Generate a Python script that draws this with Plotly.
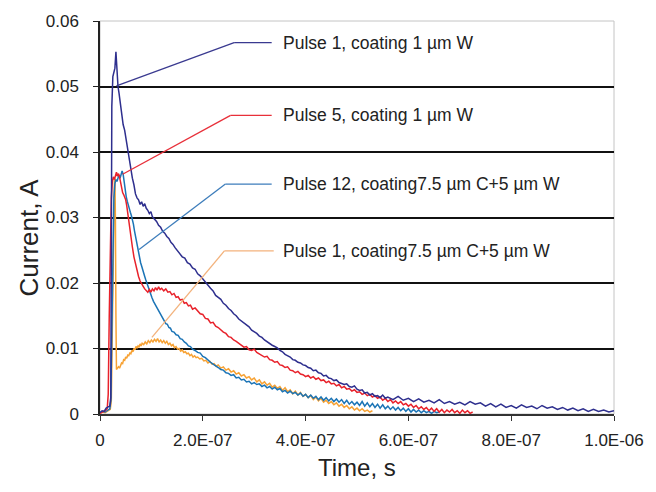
import plotly.graph_objects as go

# ---- data (time in ns, current in A) ----
t_p1w = [0, 4, 8, 12, 16, 19, 21, 22, 23, 25, 27, 29, 31, 33, 35, 37, 39, 41, 43, 45, 48, 51, 54, 57, 60, 63, 66, 69, 72, 75, 78, 81, 84, 87, 90, 93, 96, 99, 102, 106, 110, 114, 118, 122, 126, 130, 134, 138, 142, 146, 150, 155, 160, 165, 170, 175, 180, 185, 190, 195, 200, 205, 210, 215, 220, 225, 230, 235, 240, 245, 250, 255, 260, 265, 270, 275, 280, 285, 290, 295, 300, 305, 310, 315, 320, 325, 330, 335, 340, 345, 350, 355, 360, 365, 370, 375, 380, 385, 390, 395, 400, 405, 410, 415, 420, 425, 430, 435, 440, 445, 450, 455, 460, 465, 470, 475, 480, 485, 490, 495, 500, 505, 510, 515, 520, 525, 530, 535, 540, 545, 550, 555, 560, 570, 580, 590, 600, 610, 620, 630, 640, 650, 660, 670, 680, 690, 700, 710, 720, 730, 740, 750, 760, 770, 780, 790, 800, 810, 820, 830, 840, 850, 860, 870, 880, 890, 900, 910, 920, 930, 940, 950, 960, 970, 980, 990, 1000]
i_p1w = [0.0002, 0.0005, 0.0004, 0.0009, 0.0011, 0.0012, 0.0025, 0.0200, 0.0470, 0.0515, 0.0520, 0.0528, 0.0553, 0.0520, 0.0500, 0.0490, 0.0478, 0.0462, 0.0450, 0.0442, 0.0433, 0.0418, 0.0402, 0.0385, 0.0372, 0.0360, 0.0350, 0.0336, 0.0330, 0.0327, 0.0320, 0.0324, 0.0317, 0.0321, 0.0314, 0.0311, 0.0306, 0.0309, 0.0301, 0.0297, 0.0294, 0.0288, 0.0285, 0.0279, 0.0276, 0.0271, 0.0268, 0.0262, 0.0259, 0.0254, 0.0250, 0.0246, 0.0240, 0.0238, 0.0231, 0.0229, 0.0223, 0.0221, 0.0214, 0.0211, 0.0206, 0.0202, 0.0197, 0.0192, 0.0188, 0.0181, 0.0178, 0.0175, 0.0169, 0.0166, 0.0161, 0.0158, 0.0153, 0.0150, 0.0145, 0.0142, 0.0139, 0.0135, 0.0133, 0.0128, 0.0126, 0.0123, 0.0119, 0.0117, 0.0113, 0.0110, 0.0108, 0.0105, 0.0103, 0.0101, 0.0097, 0.0095, 0.0091, 0.0089, 0.0087, 0.0083, 0.0082, 0.0079, 0.0078, 0.0075, 0.0074, 0.0071, 0.0070, 0.0066, 0.0067, 0.0063, 0.0062, 0.0058, 0.0059, 0.0055, 0.0054, 0.0051, 0.0052, 0.0048, 0.0047, 0.0045, 0.0046, 0.0042, 0.0041, 0.0043, 0.0038, 0.0036, 0.0037, 0.0032, 0.0033, 0.0029, 0.0031, 0.0027, 0.0028, 0.0025, 0.0029, 0.0024, 0.0026, 0.0022, 0.0027, 0.0021, 0.0024, 0.0019, 0.0023, 0.0018, 0.0021, 0.0017, 0.0022, 0.0016, 0.0019, 0.0015, 0.0018, 0.0014, 0.0019, 0.0015, 0.0017, 0.0012, 0.0016, 0.0011, 0.0015, 0.0010, 0.0013, 0.0009, 0.0014, 0.0010, 0.0012, 0.0008, 0.0013, 0.0009, 0.0011, 0.0007, 0.0010, 0.0006, 0.0009, 0.0005, 0.0008, 0.0004, 0.0007, 0.0004, 0.0006, 0.0003, 0.0005]

t_p5w = [0, 5, 10, 14, 16, 18, 20, 22, 24, 26, 28, 30, 32, 34, 36, 38, 40, 42, 44, 46, 48, 50, 52, 54, 56, 58, 60, 63, 66, 69, 72, 75, 78, 81, 84, 87, 90, 93, 96, 99, 102, 105, 108, 111, 114, 117, 120, 124, 128, 132, 136, 140, 144, 148, 152, 156, 160, 164, 168, 172, 176, 180, 185, 190, 195, 200, 205, 210, 215, 220, 225, 230, 235, 240, 245, 250, 255, 260, 265, 270, 275, 280, 285, 290, 295, 300, 305, 310, 315, 320, 325, 330, 335, 340, 345, 350, 355, 360, 365, 370, 375, 380, 385, 390, 395, 400, 405, 410, 415, 420, 425, 430, 435, 440, 445, 450, 455, 460, 465, 470, 475, 480, 485, 490, 495, 500, 505, 510, 515, 520, 525, 530, 535, 540, 545, 550, 555, 560, 565, 570, 575, 580, 585, 590, 595, 600, 605, 610, 615, 620, 625, 630, 635, 640, 645, 650, 655, 660, 665, 670, 675, 680, 685, 690, 695, 700, 705, 710, 715, 720, 725]
i_p5w = [0.0001, 0.0003, 0.0005, 0.0008, 0.0030, 0.0150, 0.0260, 0.0330, 0.0355, 0.0362, 0.0358, 0.0366, 0.0369, 0.0363, 0.0367, 0.0362, 0.0352, 0.0345, 0.0338, 0.0335, 0.0331, 0.0327, 0.0318, 0.0305, 0.0292, 0.0281, 0.0268, 0.0255, 0.0240, 0.0229, 0.0218, 0.0210, 0.0203, 0.0198, 0.0195, 0.0191, 0.0189, 0.0186, 0.0190, 0.0186, 0.0191, 0.0188, 0.0193, 0.0189, 0.0194, 0.0190, 0.0192, 0.0188, 0.0191, 0.0186, 0.0187, 0.0182, 0.0184, 0.0178, 0.0179, 0.0174, 0.0175, 0.0169, 0.0170, 0.0165, 0.0166, 0.0160, 0.0162, 0.0157, 0.0153, 0.0152, 0.0146, 0.0145, 0.0139, 0.0140, 0.0134, 0.0132, 0.0128, 0.0125, 0.0123, 0.0118, 0.0117, 0.0113, 0.0111, 0.0108, 0.0106, 0.0102, 0.0103, 0.0098, 0.0097, 0.0099, 0.0094, 0.0092, 0.0090, 0.0087, 0.0088, 0.0083, 0.0082, 0.0079, 0.0080, 0.0075, 0.0074, 0.0071, 0.0072, 0.0067, 0.0066, 0.0063, 0.0065, 0.0061, 0.0060, 0.0057, 0.0059, 0.0055, 0.0057, 0.0053, 0.0055, 0.0051, 0.0052, 0.0048, 0.0050, 0.0046, 0.0047, 0.0043, 0.0045, 0.0040, 0.0042, 0.0038, 0.0039, 0.0035, 0.0037, 0.0033, 0.0034, 0.0030, 0.0032, 0.0028, 0.0030, 0.0026, 0.0028, 0.0024, 0.0026, 0.0021, 0.0024, 0.0019, 0.0022, 0.0017, 0.0020, 0.0016, 0.0019, 0.0014, 0.0016, 0.0012, 0.0015, 0.0010, 0.0013, 0.0008, 0.0011, 0.0007, 0.0010, 0.0005, 0.0009, 0.0004, 0.0008, 0.0003, 0.0007, 0.0002, 0.0006, 0.0003, 0.0007, 0.0002, 0.0005, 0.0001, 0.0006, 0.0002, 0.0005, 0.0001, 0.0003]

t_p12c = [0, 5, 10, 15, 19, 21, 23, 25, 27, 29, 31, 33, 35, 37, 39, 41, 43, 45, 47, 49, 51, 53, 55, 57, 59, 61, 63, 65, 67, 69, 71, 73, 75, 77, 79, 81, 83, 85, 87, 89, 91, 93, 95, 97, 99, 101, 104, 107, 110, 113, 116, 119, 122, 125, 128, 131, 134, 137, 140, 144, 148, 152, 156, 160, 164, 168, 172, 176, 180, 185, 190, 195, 200, 205, 210, 215, 220, 225, 230, 235, 240, 245, 250, 255, 260, 265, 270, 275, 280, 285, 290, 295, 300, 305, 310, 315, 320, 325, 330, 335, 340, 345, 350, 355, 360, 365, 370, 375, 380, 385, 390, 395, 400, 405, 410, 415, 420, 425, 430, 435, 440, 445, 450, 455, 460, 465, 470, 475, 480, 485, 490, 495, 500, 505, 510, 515, 520, 525, 530, 535, 540, 545, 550, 555, 560, 565, 570, 575, 580, 585, 590, 595, 600, 605, 610, 615, 620, 625, 630, 635, 640, 645, 650, 655, 660]
i_p12c = [0.0002, 0.0004, 0.0003, 0.0006, 0.0008, 0.0020, 0.0120, 0.0250, 0.0330, 0.0352, 0.0358, 0.0355, 0.0362, 0.0365, 0.0360, 0.0368, 0.0371, 0.0366, 0.0352, 0.0343, 0.0332, 0.0325, 0.0318, 0.0312, 0.0308, 0.0303, 0.0298, 0.0290, 0.0280, 0.0271, 0.0262, 0.0254, 0.0246, 0.0240, 0.0231, 0.0226, 0.0219, 0.0214, 0.0210, 0.0205, 0.0200, 0.0197, 0.0190, 0.0187, 0.0181, 0.0178, 0.0172, 0.0168, 0.0163, 0.0159, 0.0155, 0.0151, 0.0146, 0.0143, 0.0138, 0.0137, 0.0132, 0.0131, 0.0126, 0.0125, 0.0121, 0.0120, 0.0115, 0.0114, 0.0110, 0.0108, 0.0104, 0.0103, 0.0099, 0.0097, 0.0094, 0.0093, 0.0088, 0.0086, 0.0082, 0.0079, 0.0076, 0.0074, 0.0071, 0.0068, 0.0067, 0.0063, 0.0062, 0.0059, 0.0060, 0.0055, 0.0056, 0.0052, 0.0053, 0.0049, 0.0050, 0.0046, 0.0048, 0.0045, 0.0046, 0.0042, 0.0044, 0.0040, 0.0042, 0.0038, 0.0041, 0.0037, 0.0039, 0.0034, 0.0036, 0.0032, 0.0035, 0.0031, 0.0033, 0.0029, 0.0032, 0.0027, 0.0030, 0.0025, 0.0029, 0.0024, 0.0027, 0.0022, 0.0026, 0.0021, 0.0025, 0.0020, 0.0024, 0.0019, 0.0023, 0.0018, 0.0022, 0.0016, 0.0021, 0.0015, 0.0019, 0.0014, 0.0018, 0.0013, 0.0019, 0.0012, 0.0017, 0.0011, 0.0016, 0.0010, 0.0015, 0.0009, 0.0014, 0.0008, 0.0012, 0.0007, 0.0011, 0.0006, 0.0010, 0.0005, 0.0009, 0.0004, 0.0008, 0.0003, 0.0007, 0.0003, 0.0006, 0.0002, 0.0005, 0.0002, 0.0004, 0.0001, 0.0004, 0.0002, 0.0003]

t_p1c = [0, 5, 10, 15, 20, 22, 24, 26, 28, 29, 30, 31, 32, 34, 36, 38, 40, 42, 44, 46, 48, 50, 52, 54, 56, 58, 60, 62, 64, 66, 68, 70, 72, 74, 76, 78, 80, 82, 85, 88, 91, 94, 97, 100, 103, 106, 109, 112, 115, 118, 121, 124, 127, 130, 133, 136, 139, 142, 145, 148, 151, 154, 157, 160, 163, 166, 169, 172, 175, 178, 181, 184, 187, 190, 194, 198, 202, 206, 210, 214, 218, 222, 226, 230, 235, 240, 245, 250, 255, 260, 265, 270, 275, 280, 285, 290, 295, 300, 305, 310, 315, 320, 325, 330, 335, 340, 345, 350, 355, 360, 365, 370, 375, 380, 385, 390, 395, 400, 405, 410, 415, 420, 425, 430, 435, 440, 445, 450, 455, 460, 465, 470, 475, 480, 485, 490, 495, 500, 505, 510, 515, 520, 525, 530]
i_p1c = [0.0001, 0.0003, 0.0002, 0.0005, 0.0007, 0.0020, 0.0150, 0.0300, 0.0355, 0.0360, 0.0300, 0.0150, 0.0068, 0.0070, 0.0072, 0.0070, 0.0076, 0.0078, 0.0077, 0.0083, 0.0082, 0.0087, 0.0085, 0.0090, 0.0089, 0.0093, 0.0092, 0.0097, 0.0095, 0.0100, 0.0098, 0.0103, 0.0101, 0.0104, 0.0102, 0.0107, 0.0104, 0.0108, 0.0106, 0.0110, 0.0107, 0.0112, 0.0109, 0.0113, 0.0110, 0.0114, 0.0111, 0.0115, 0.0110, 0.0113, 0.0109, 0.0112, 0.0108, 0.0111, 0.0106, 0.0108, 0.0104, 0.0106, 0.0101, 0.0103, 0.0099, 0.0100, 0.0096, 0.0098, 0.0094, 0.0095, 0.0092, 0.0093, 0.0089, 0.0091, 0.0087, 0.0089, 0.0086, 0.0087, 0.0084, 0.0085, 0.0081, 0.0082, 0.0078, 0.0080, 0.0076, 0.0077, 0.0073, 0.0075, 0.0070, 0.0072, 0.0067, 0.0069, 0.0064, 0.0066, 0.0061, 0.0063, 0.0058, 0.0060, 0.0055, 0.0057, 0.0052, 0.0055, 0.0049, 0.0052, 0.0046, 0.0049, 0.0044, 0.0047, 0.0041, 0.0044, 0.0039, 0.0042, 0.0036, 0.0040, 0.0034, 0.0037, 0.0031, 0.0035, 0.0029, 0.0033, 0.0027, 0.0030, 0.0025, 0.0028, 0.0022, 0.0026, 0.0020, 0.0024, 0.0018, 0.0021, 0.0016, 0.0019, 0.0014, 0.0017, 0.0012, 0.0015, 0.0010, 0.0013, 0.0008, 0.0011, 0.0006, 0.0009, 0.0005, 0.0008, 0.0004, 0.0006, 0.0003, 0.0005]

series_names = ["Pulse 1, coating 1 µm W", "Pulse 5, coating 1 µm W",
                "Pulse 12, coating7.5 µm C+5 µm W", "Pulse 1, coating7.5 µm C+5 µm W"]

x_tickvals = [0, 2e-7, 4e-7, 6e-7, 8e-7, 1e-6]
x_ticktext = ["0", "2.0E-07", "4.0E-07", "6.0E-07", "8.0E-07", "1.0E-06"]
y_tickvals = [0, 0.01, 0.02, 0.03, 0.04, 0.05, 0.06]
y_ticktext = ["0", "0.01", "0.02", "0.03", "0.04", "0.05", "0.06"]
grid_vals = [0.01, 0.02, 0.03, 0.04, 0.05]

# callout geometry (data coords: ns, A): start point on curve, elbow, end
callouts = [
    ((32, 0.0501), (261, 0.0567), (334, 0.0567)),
    ((44, 0.0366), (254, 0.0456), (334, 0.0456)),
    ((76, 0.0251), (244, 0.0351), (334, 0.0351)),
    ((101, 0.0117), (242, 0.0249), (338, 0.0249)),
]
label_x_ns = 353

curve_colors = ["#2E2F8E", "#E8222B", "#1B74B6", "#F7A234"]
callout_colors = ["#3A3A90", "#E8303A", "#3D7DBB", "#F3B27C"]

FONT = "Arial, 'Liberation Sans', sans-serif"

def to_s(ns_list):
    return [v * 1e-9 for v in ns_list]

fig = go.Figure()
# draw order: orange, teal, red, dark blue (on top)
for idx, (t, i) in [(3, (t_p1c, i_p1c)), (2, (t_p12c, i_p12c)),
                    (1, (t_p5w, i_p5w)), (0, (t_p1w, i_p1w))]:
    fig.add_trace(go.Scatter(x=to_s(t), y=i, mode="lines", name=series_names[idx],
                             line=dict(color=curve_colors[idx], width=1.5),
                             showlegend=False, hoverinfo="skip"))

shapes = [dict(type="rect", xref="paper", yref="paper", x0=0, x1=1, y0=0, y1=1,
               line=dict(color="#C4C4C4", width=1), layer="below")]
annotations = []
for k, (p0, p1, p2) in enumerate(callouts):
    for a, b in ((p0, p1), (p1, p2)):
        shapes.append(dict(type="line", xref="x", yref="y",
                           x0=a[0] * 1e-9, y0=a[1], x1=b[0] * 1e-9, y1=b[1],
                           line=dict(color=callout_colors[k], width=1.3), layer="above"))
    annotations.append(dict(x=label_x_ns * 1e-9, y=p2[1], xref="x", yref="y",
                            text=series_names[k], showarrow=False, xanchor="left",
                            yanchor="middle", font=dict(family=FONT, size=17.5, color="#222222")))

annotations.append(dict(x=0.5, y=-0.137, xref="paper", yref="paper", text="Time, s",
                        showarrow=False, xanchor="center", yanchor="middle",
                        font=dict(family=FONT, size=24, color="#222222")))
annotations.append(dict(x=-0.139, y=0.448, xref="paper", yref="paper", text="Current, A",
                        showarrow=False, textangle=-90, xanchor="center", yanchor="middle",
                        font=dict(family=FONT, size=26, color="#222222")))

fig.update_layout(
    width=656, height=492,
    margin=dict(l=100, r=32, t=19, b=78, pad=0),
    paper_bgcolor="white", plot_bgcolor="white",
    shapes=shapes, annotations=annotations,
    xaxis=dict(range=[0, 1e-6], tickmode="array", tickvals=x_tickvals, ticktext=x_ticktext,
               showgrid=False, zeroline=False, showline=True, linecolor="#333333", linewidth=1.5,
               ticks="outside", ticklen=5, tickcolor="#333333", tickwidth=1.2,
               tickfont=dict(family=FONT, size=17, color="#222222"), ticklabelstandoff=5),
    yaxis=dict(range=[0, 0.06], tickmode="array", tickvals=y_tickvals, ticktext=y_ticktext,
               showgrid=False, zeroline=False, showline=True, linecolor="#222222", linewidth=1.5,
               ticks="outside", ticklen=5, tickcolor="#222222", tickwidth=1.2,
               tickfont=dict(family=FONT, size=17, color="#222222"), ticklabelstandoff=11,
               minor=dict(tickmode="array", tickvals=grid_vals, showgrid=True,
                          gridcolor="#111111", gridwidth=1.5, ticks="")),
)

fig.write_html("out.html")
